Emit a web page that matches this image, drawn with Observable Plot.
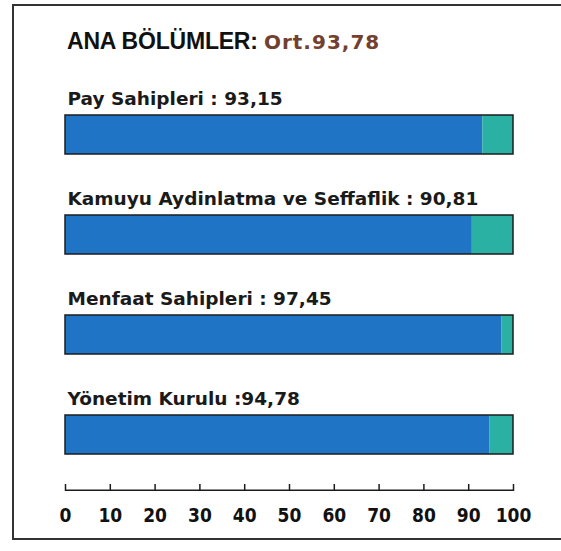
<!DOCTYPE html>
<html>
<head>
<meta charset="utf-8">
<script src="https://cdn.jsdelivr.net/npm/d3@7"></script>
<script src="https://cdn.jsdelivr.net/npm/@observablehq/plot@0.6"></script>
<style>
  html, body { margin: 0; padding: 0; background: #fff; }
  #wrap { position: relative; width: 561px; height: 551px; overflow: hidden; }
  #border { position: absolute; left: 12px; top: 4px; width: 560px; height: 536px; border: 2px solid #333; border-right: none; box-sizing: border-box; }
  #title { position: absolute; left: 67px; top: 28px; white-space: nowrap; }
  #title .a { font-family: "Liberation Sans", Arial, sans-serif; font-weight: bold; font-size: 23px; color: #111; letter-spacing: -0.2px; }
  #title .b { font-family: "DejaVu Sans", sans-serif; font-weight: bold; font-size: 20px; color: #73402f; letter-spacing: 1px; }
  #chart { position: absolute; left: 0; top: 0; }
</style>
</head>
<body>
<div id="wrap">
  <div id="border"></div>
  <div id="chart"></div>
  <div id="title"><span class="a">ANA BÖLÜMLER: </span><span class="b">Ort.93,78</span></div>
</div>
<script>
const categories = ["Pay Sahipleri", "Kamuyu Aydinlatma ve Seffaflik", "Menfaat Sahipleri", "Yönetim Kurulu"];
const values = [93.15, 90.81, 97.45, 94.78];
const valueLabels = ["93,15", "90,81", "97,45", "94,78"];
const separators = [" : ", " : ", " : ", " :"];
const maxScore = 100;
const tickValues = [0, 10, 20, 30, 40, 50, 60, 70, 80, 90, 100];

const data = categories.map((c, i) => ({
  name: c,
  value: values[i],
  max: maxScore,
  label: c + separators[i] + valueLabels[i]
}));

const blue = "#1f74c6";
const teal = "#2bb0a4";
const ink = "#1c1c1c";

const chart = Plot.plot({
  width: 561,
  height: 551,
  marginLeft: 65,
  marginRight: 48,
  marginTop: 84,
  marginBottom: 60,
  x: { domain: [0, maxScore], axis: null },
  y: { domain: categories, range: [84, 484], paddingInner: 0.61, paddingOuter: 0.305, axis: null },
  style: { background: "transparent" },
  marks: [
    Plot.barX(data, { y: "name", x1: 0, x2: "value", fill: blue }),
    Plot.barX(data, { y: "name", x1: "value", x2: "max", fill: teal }),
    Plot.ruleX(data, { x: "value", y: "name", stroke: "#155a9c", strokeWidth: 1.2 }),
    Plot.barX(data, { y: "name", x1: 0, x2: "max", fill: "none", stroke: ink, strokeWidth: 1.5 }),
    Plot.text(data, {
      y: "name", x: 0, text: "label", textAnchor: "start", lineAnchor: "bottom",
      dx: 2, dy: -30, fontSize: 18.5, fontWeight: "bold", fill: "#1a1a1a",
      fontFamily: "DejaVu Sans", letterSpacing: "0.3px"
    }),
    // axis line
    Plot.barX([0], { x1: 0, x2: maxScore, insetTop: 405.5, fill: ink }),
    // ticks pointing up
    Plot.ruleX(tickValues, { x: d => d, insetTop: 400, stroke: ink, strokeWidth: 1.5 }),
    Plot.text(tickValues, {
      x: d => d, text: d => String(d), frameAnchor: "bottom", dy: 30,
      fontSize: 19, fontWeight: "bold", fill: "#111",
      fontFamily: "DejaVu Sans Condensed", letterSpacing: "-1.5px"
    })
  ]
});
document.getElementById("chart").appendChild(chart);
</script>
</body>
</html>
